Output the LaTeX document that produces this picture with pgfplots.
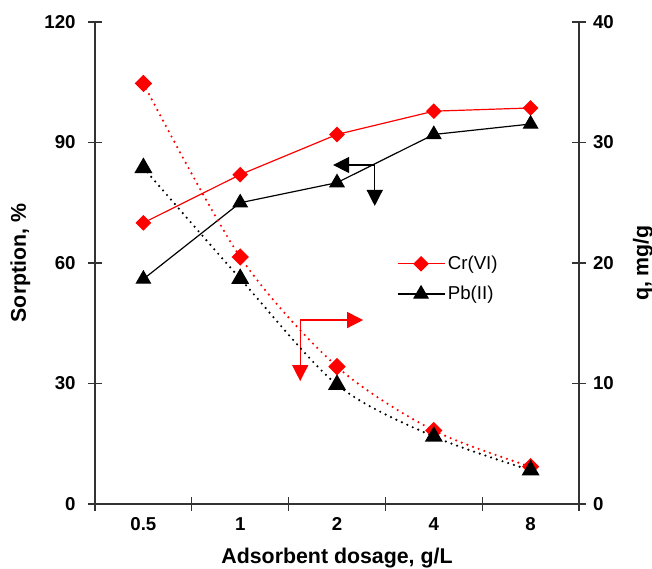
\documentclass[border=0pt]{standalone}
\usepackage{fontspec}
\setmainfont{Liberation Sans}
\usepackage{pgfplots}
\pgfplotsset{compat=1.18}
\usetikzlibrary{arrows.meta}

\begin{document}
\begin{tikzpicture}[font=\fontsize{14}{16}\selectfont]
\pgfplotsset{
  base/.style={
    width=363pt, height=361.5pt, scale only axis,
    xmin=-0.5, xmax=4.5,
    axis line style={line width=1pt, black!80, -},
    tick style={line width=1pt, black!80},
    tick align=center,
    major tick length=10pt,
    /pgf/number format/assume math mode=true,
  },
  qline/.style={line width=1.8pt, dash pattern=on 0pt off 4.5pt, line cap=round, smooth},
  dia/.style={mark=square*, mark size=3.7pt, mark options={solid, rotate=45}},
  tri/.style={mark=triangle*, mark size=6pt, mark options={solid}},
}
\begin{axis}[base,
  axis x line*=bottom, axis y line*=left,
  ymin=0, ymax=120, ytick={0,30,60,90,120},
  xtick={-0.5,0.5,1.5,2.5,3.5,4.5}, xticklabels={},
  extra x ticks={0,1,2,3,4}, extra x tick labels={0.5,1,2,4,8},
  extra x tick style={major tick length=0pt},
  x tick label style={font=\fontsize{14}{16}\selectfont\bfseries, yshift=-6.5pt},
  y tick label style={font=\fontsize{14}{16}\selectfont\bfseries, xshift=-6pt},
  xlabel={Adsorbent dosage, g/L},
  ylabel={Sorption, \%},
  every axis x label/.style={at={(axis description cs:0.5,-0.113)}, anchor=center,
    font=\fontsize{16}{18}\selectfont\bfseries},
  every axis y label/.style={at={(axis description cs:-0.154,0.5)}, anchor=center, rotate=90,
    font=\fontsize{16}{18}\selectfont\bfseries},
  legend style={draw=none, fill=none, at={(0.615,0.526)}, anchor=north west,
    font=\fontsize{14}{16}\selectfont, row sep=7pt},
  legend cell align=left,
  legend image code/.code={\draw[mark repeat=2, mark phase=2, #1]
    plot coordinates {(0cm,0cm) (0.62cm,0cm) (1.24cm,0cm)};},
]
% sorption, %
\addplot[red, line width=0.9pt, dia] coordinates {
  (0,70) (1,82) (2,92) (3,97.8) (4,98.6)
};
\addplot[black, line width=0.9pt, tri] coordinates {
  (0,56) (1,75) (2,80) (3,92) (4,94.6)
};
\legend{Cr(VI), Pb(II)}
% arrows
\draw[black, line width=1pt, -{Triangle[length=12pt,width=12pt]}] (axis cs:2.39,84.4) -- (axis cs:1.96,84.4);
\draw[black, line width=1pt, -{Triangle[length=12pt,width=12pt]}] (axis cs:2.39,84.4) -- (axis cs:2.39,74.2);
\draw[red, line width=1pt, -{Triangle[length=12pt,width=12pt]}] (axis cs:1.62,45.8) -- (axis cs:2.27,45.8);
\draw[red, line width=1pt, -{Triangle[length=12pt,width=12pt]}] (axis cs:1.62,45.8) -- (axis cs:1.62,30.6);
\end{axis}
\begin{axis}[base,
  axis y line*=right, axis x line=none,
  ymin=0, ymax=40, ytick={0,10,20,30,40},
  y tick label style={font=\fontsize{14}{16}\selectfont\bfseries, xshift=2pt},
  ylabel={q, mg/g},
  every axis y label/.style={at={(axis description cs:1.132,0.5)}, anchor=center, rotate=90,
    font=\fontsize{16}{18}\selectfont\bfseries},
]
% q, mg/g
\addplot[red, qline, dia] coordinates {
  (0,34.9) (1,20.5) (2,11.4) (3,6.1) (4,3.1)
};
\addplot[black, qline, tri] coordinates {
  (0,27.9) (1,18.7) (2,9.9) (3,5.6) (4,2.8)
};
\end{axis}
\pgfresetboundingbox
\path[use as bounding box] (-71.25pt,-48pt) rectangle (417.75pt,378pt);
\end{tikzpicture}
\end{document}
